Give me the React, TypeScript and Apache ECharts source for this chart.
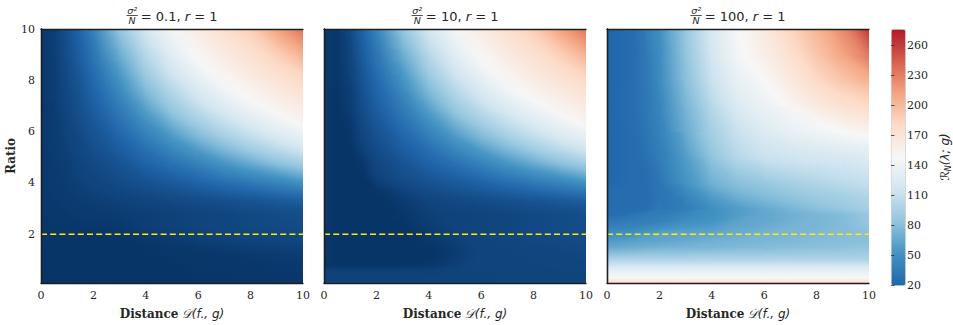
import React, { useEffect, useRef } from 'react';
import * as echarts from 'echarts';

// ---------- data ----------
const xVals = [0, 0.5, 1, 1.5, 2, 3, 4, 5, 6, 7, 8, 9, 10];
const yValsP1 = [0.1, 0.75, 1.25, 1.75, 2.25, 2.75, 3.25, 3.75, 4.25, 4.75, 5.25, 5.75, 6.25, 6.75, 7.25, 7.75, 8.25, 8.75, 9.25, 9.75, 10];
const yValsP2 = [0.1, 0.55, 0.8, 1.25, 1.75, 2.25, 2.75, 3.25, 3.75, 4.25, 4.75, 5.25, 5.75, 6.25, 6.75, 7.25, 7.75, 8.25, 8.75, 9.25, 9.75, 10];
const yValsP3 = [0.1, 0.3, 0.5, 0.75, 1, 1.25, 1.5, 1.75, 2, 2.25, 2.5, 2.75, 3, 3.5, 4, 5, 6, 7, 8, 9, 10];

// panel 1: sigma^2/N = 0.1 (rows bottom -> top, columns follow xVals)
const panel1Rows = [
  [3, 3, 3, 3, 3, 3, 3, 3, 3, 3, 4, 4, 4],
  [3, 3, 3, 3, 3, 3, 3, 3, 4, 4, 4, 5, 5],
  [3, 3, 3, 3, 3, 3, 3, 4, 4, 5, 6, 7, 8],
  [3, 3, 3, 3, 3, 3, 4, 6, 8, 10, 11, 12, 13],
  [4, 4, 4, 4, 4, 5, 8, 10, 12, 13, 14, 15, 16],
  [5, 5, 5, 6, 6, 7, 9, 10, 12, 13, 15, 16, 17],
  [5, 5, 6, 7, 8, 10, 12, 14, 16, 18, 20, 23, 26],
  [5, 6, 7, 9, 11, 14, 17, 21, 25, 30, 35, 42, 49],
  [5, 6, 8, 11, 13, 18, 23, 29, 37, 47, 56, 65, 77],
  [5, 6, 9, 12, 15, 21, 30, 40, 52, 65, 79, 93, 104],
  [5, 7, 10, 14, 18, 26, 38, 53, 68, 86, 101, 114, 127],
  [5, 7, 11, 15, 20, 31, 48, 66, 87, 104, 119, 133, 144],
  [5, 7, 12, 17, 22, 38, 58, 81, 102, 119, 135, 148, 161],
  [5, 7, 13, 19, 26, 45, 69, 96, 115, 133, 148, 162, 170],
  [5, 8, 14, 20, 29, 52, 81, 107, 128, 145, 161, 170, 179],
  [5, 8, 15, 22, 32, 60, 92, 117, 138, 157, 168, 178, 188],
  [5, 8, 16, 24, 36, 67, 102, 128, 149, 165, 176, 186, 196],
  [5, 8, 17, 27, 41, 76, 110, 137, 159, 171, 183, 194, 210],
  [5, 9, 18, 29, 45, 85, 119, 145, 165, 178, 189, 204, 225],
  [5, 9, 19, 31, 50, 93, 127, 153, 170, 184, 196, 218, 239],
  [5, 9, 19, 32, 52, 97, 131, 157, 174, 186, 200, 225, 246],
];

// panel 2: sigma^2/N = 10
const panel2Rows = [
  [11, 11, 11, 11, 11, 11, 11, 11, 11, 12, 12, 12, 12],
  [10, 10, 10, 10, 10, 10, 10, 11, 11, 12, 12, 12, 12],
  [4, 3, 3, 3, 3, 3, 4, 9, 12, 12, 12, 13, 13],
  [5, 3, 3, 3, 3, 3, 3, 6, 12, 12, 13, 13, 14],
  [5, 3, 3, 3, 3, 3, 4, 9, 12, 13, 14, 15, 16],
  [6, 3, 3, 3, 3, 3, 7, 11, 12, 13, 15, 16, 17],
  [6, 3, 3, 3, 3, 4, 9, 11, 12, 13, 15, 16, 17],
  [6, 3, 3, 3, 3, 6, 12, 14, 16, 18, 20, 23, 26],
  [6, 3, 3, 3, 4, 12, 17, 21, 25, 30, 35, 42, 49],
  [6, 3, 3, 3, 11, 18, 23, 29, 37, 47, 56, 65, 77],
  [6, 3, 3, 5, 13, 21, 30, 40, 52, 65, 79, 93, 104],
  [6, 3, 3, 10, 16, 26, 38, 53, 68, 86, 101, 114, 127],
  [6, 3, 4, 13, 19, 31, 48, 66, 87, 104, 119, 133, 144],
  [6, 3, 5, 15, 22, 38, 58, 81, 102, 119, 135, 148, 161],
  [6, 3, 7, 17, 26, 45, 69, 96, 115, 133, 148, 162, 170],
  [6, 3, 8, 19, 29, 52, 81, 107, 128, 145, 161, 170, 179],
  [6, 3, 9, 21, 32, 60, 92, 117, 138, 157, 168, 178, 188],
  [6, 4, 11, 23, 36, 67, 102, 128, 149, 165, 176, 186, 196],
  [6, 4, 12, 26, 41, 76, 110, 137, 159, 171, 183, 194, 210],
  [6, 4, 13, 28, 45, 85, 119, 145, 165, 178, 189, 204, 225],
  [6, 4, 14, 30, 50, 93, 127, 153, 170, 184, 196, 218, 239],
  [6, 4, 15, 31, 52, 97, 131, 157, 174, 186, 200, 225, 246],
];

// panel 3: sigma^2/N = 100 (in colorbar units)
const panel3Rows = [
  [178, 178, 178, 178, 178, 178, 178, 178, 178, 178, 178, 178, 178],
  [147, 147, 147, 147, 147, 147, 147, 147, 147, 147, 147, 147, 147],
  [138, 138, 138, 138, 138, 138, 138, 138, 138, 138, 138, 138, 138],
  [119, 119, 119, 120, 120, 120, 121, 121, 121, 122, 122, 122, 122],
  [100, 100, 100, 100, 100, 100, 100, 100, 100, 100, 100, 99, 99],
  [81, 81, 82, 84, 84, 84, 86, 87, 87, 89, 89, 90, 90],
  [65, 66, 68, 70, 71, 73, 74, 76, 78, 79, 81, 82, 84],
  [57, 58, 60, 62, 63, 66, 70, 73, 74, 76, 78, 79, 81],
  [49, 50, 52, 57, 62, 63, 65, 68, 73, 74, 76, 78, 81],
  [39, 41, 42, 46, 49, 55, 58, 65, 68, 73, 74, 78, 84],
  [33, 34, 36, 38, 39, 49, 52, 62, 65, 71, 74, 78, 87],
  [25, 26, 30, 34, 36, 42, 49, 58, 65, 70, 74, 78, 87],
  [25, 25, 25, 26, 33, 36, 49, 58, 66, 74, 81, 87, 94],
  [25, 25, 25, 25, 30, 42, 58, 71, 78, 84, 90, 94, 100],
  [20, 23, 25, 26, 31, 52, 71, 81, 87, 94, 100, 105, 110],
  [20, 22, 25, 28, 36, 58, 84, 103, 113, 116, 119, 122, 126],
  [20, 22, 26, 31, 39, 68, 94, 113, 126, 135, 142, 148, 154],
  [20, 23, 26, 33, 42, 74, 103, 126, 138, 151, 164, 174, 180],
  [20, 22, 26, 33, 46, 81, 113, 135, 148, 164, 180, 193, 206],
  [20, 22, 26, 33, 47, 84, 119, 145, 158, 174, 193, 212, 234],
  [20, 22, 26, 36, 49, 87, 122, 148, 164, 183, 202, 225, 263],
];

const noiseLabels = ['0.1', '10', '100'];
const xTicks = [0, 2, 4, 6, 8, 10];
const yTicks = [2, 4, 6, 8, 10];
const cbarTicks = [20, 50, 80, 110, 140, 170, 200, 230, 260];
const ratioThreshold = [2, 2];
const thresholdX = [0, 10];
const X_RANGE = [0, 10];
const Y_RANGE = [0.1, 10];
const CBAR_RANGE = [20, 276];
const PANEL12_RANGE = [0, 320];

// ---------- styling ----------
const RDBU_R = ['#053061', '#2166ac', '#4393c3', '#92c5de', '#d1e5f0', '#f7f7f7', '#fddbc7', '#f4a582', '#d6604d', '#b2182b', '#67001f'];
const PANEL_LEFT = [41, 324, 607];
const PANEL_W = 262;
const PANEL_TOP = 29;
const PANEL_H = 256;
const SERIF = "'DejaVu Serif', serif";
const SANS = "'DejaVu Sans', sans-serif";
const FRAME = '#1e1e1e';
const TXT = '#262626';

let measureCtx: CanvasRenderingContext2D | null = null;
function textWidth(t: string, font: string) {
  if (!measureCtx) measureCtx = document.createElement('canvas').getContext('2d');
  measureCtx!.font = font;
  return measureCtx!.measureText(t).width;
}

function titleGraphic(cx: number, label: string) {
  const small = 9.5;
  const fs = 13;
  const fSmall = `italic ${small}px 'DejaVu Sans'`;
  const fMain = `${fs}px 'DejaVu Sans'`;
  const fIt = `italic ${fs}px 'DejaVu Sans'`;
  const wFrac = Math.max(textWidth('σ²', fSmall), textWidth('N', fSmall)) + 1.5;
  const gap = 3;
  const t1 = `= ${label}, `;
  const t2 = 'r';
  const t3 = ' = 1';
  const w1 = textWidth(t1, fMain);
  const w2 = textWidth(t2, fIt);
  const w3 = textWidth(t3, fMain);
  const total = wFrac + gap + w1 + w2 + w3;
  const x0 = cx - total / 2;
  const mid = 16;
  return [
    { type: 'text', x: x0 + wFrac / 2, y: 10, style: { text: 'σ²', fontSize: small, fontStyle: 'italic', fontFamily: SANS, fill: TXT, align: 'center', verticalAlign: 'middle' } },
    { type: 'line', shape: { x1: x0, y1: 15.5, x2: x0 + wFrac, y2: 15.5 }, style: { stroke: TXT, lineWidth: 0.8 } },
    { type: 'text', x: x0 + wFrac / 2, y: 20.5, style: { text: 'N', fontSize: small, fontStyle: 'italic', fontFamily: SANS, fill: TXT, align: 'center', verticalAlign: 'middle' } },
    { type: 'text', x: x0 + wFrac + gap, y: mid, style: { text: t1, fontSize: fs, fontFamily: SANS, fill: TXT, align: 'left', verticalAlign: 'middle' } },
    { type: 'text', x: x0 + wFrac + gap + w1, y: mid, style: { text: t2, fontSize: fs, fontStyle: 'italic', fontFamily: SANS, fill: TXT, align: 'left', verticalAlign: 'middle' } },
    { type: 'text', x: x0 + wFrac + gap + w1 + w2, y: mid, style: { text: t3, fontSize: fs, fontFamily: SANS, fill: TXT, align: 'left', verticalAlign: 'middle' } },
  ];
}

function fieldSeries(p: number, rows: number[][], yVals: number[]) {
  const nx = xVals.length;
  const ny = yVals.length;
  const data: number[][] = [];
  rows.forEach((row, j) => row.forEach((v, i) => data.push([xVals[i], yVals[j], v, i, j])));
  const idx = (i: number, j: number) => j * nx + i;
  return {
    type: 'custom', xAxisIndex: 2 * p, yAxisIndex: 2 * p, clip: true, silent: true, z: 2,
    encode: { x: 0, y: 1 },
    data,
    renderItem: (params: any, api: any) => {
      const i = api.value(3);
      const j = api.value(4);
      if (i >= nx - 1 || j >= ny - 1) return null;
      const corners = [[i, j], [i + 1, j], [i, j + 1], [i + 1, j + 1]];
      const pts = corners.map(([a, b]) => api.coord([xVals[a], yVals[b]]));
      const vals = corners.map(([a, b]) => api.value(2, idx(a, b)));
      const cols = corners.map(([a, b]) => api.visual('color', idx(a, b)));
      const x0 = pts[0][0];
      const x1 = pts[1][0];
      const yb = pts[0][1];
      const yt = pts[2][1];
      const w = x1 - x0;
      const h = yt - yb;
      const gx = ((vals[1] - vals[0]) + (vals[3] - vals[2])) / (2 * w);
      const gy = ((vals[2] - vals[0]) + (vals[3] - vals[1])) / (2 * h);
      const norm = Math.hypot(gx, gy);
      let fill: any = cols[0];
      if (norm > 1e-9) {
        const dx = gx / norm;
        const dy = gy / norm;
        const s = pts.map((pt: number[]) => (pt[0] - x0) * dx + (pt[1] - yb) * dy);
        const smin = Math.min(...s);
        const smax = Math.max(...s);
        if (smax - smin > 1e-6) {
          const stops = s
            .map((sv: number, k: number) => ({ offset: (sv - smin) / (smax - smin), color: cols[k] }))
            .sort((a: any, b: any) => a.offset - b.offset);
          fill = {
            type: 'linear', global: true,
            x: x0 + smin * dx, y: yb + smin * dy, x2: x0 + smax * dx, y2: yb + smax * dy,
            colorStops: stops,
          };
        }
      }
      const pad = 0.45;
      return {
        type: 'rect',
        shape: { x: x0 - pad, y: yt - pad, width: w + 2 * pad, height: yb - yt + 2 * pad },
        style: { fill },
      };
    },
  };
}

function buildOption() {
  const panels = [
    { rows: panel1Rows, yVals: yValsP1 },
    { rows: panel2Rows, yVals: yValsP2 },
    { rows: panel3Rows, yVals: yValsP3 },
  ];

  const grid: any[] = PANEL_LEFT.map((l) => ({ left: l, top: PANEL_TOP, width: PANEL_W, height: PANEL_H }));
  grid.push({ left: 891, top: PANEL_TOP, width: 14, height: PANEL_H });

  const xAxis: any[] = [];
  const yAxis: any[] = [];
  PANEL_LEFT.forEach((_, p) => {
    xAxis.push({
      type: 'value', gridIndex: p, min: X_RANGE[0], max: X_RANGE[1], position: 'bottom', z: 10,
      axisLine: { show: true, lineStyle: { color: FRAME, width: 1.3 } },
      axisTick: { show: false }, splitLine: { show: false },
      axisLabel: { customValues: xTicks, fontFamily: SERIF, fontSize: 11, color: TXT, margin: 7 },
      name: '{b|Distance} {m|𝒟(f., g)}', nameLocation: 'middle', nameGap: 25,
      nameTextStyle: {
        rich: {
          b: { fontFamily: SERIF, fontWeight: 'bold', fontSize: 12, color: TXT },
          m: { fontFamily: SANS, fontStyle: 'italic', fontSize: 12, color: TXT },
        },
      },
    });
    xAxis.push({
      type: 'value', gridIndex: p, min: X_RANGE[0], max: X_RANGE[1], position: 'top', z: 10,
      axisLine: { show: true, lineStyle: { color: FRAME, width: 1.3 } },
      axisTick: { show: false }, splitLine: { show: false }, axisLabel: { show: false },
    });
    yAxis.push({
      type: 'value', gridIndex: p, min: Y_RANGE[0], max: Y_RANGE[1], position: 'left', z: 10,
      axisLine: { show: true, lineStyle: { color: FRAME, width: 1.3 } },
      axisTick: { show: false }, splitLine: { show: false },
      axisLabel: p === 0
        ? { customValues: yTicks, fontFamily: SERIF, fontSize: 11, color: TXT, margin: 6 }
        : { show: false },
      name: p === 0 ? 'Ratio' : '', nameLocation: 'middle', nameGap: 21, nameRotate: 90,
      nameTextStyle: { fontFamily: SERIF, fontWeight: 'bold', fontSize: 12, color: TXT },
    });
    yAxis.push({
      type: 'value', gridIndex: p, min: Y_RANGE[0], max: Y_RANGE[1], position: 'right', z: 10,
      axisLine: { show: true, lineStyle: { color: FRAME, width: 1.3 } },
      axisTick: { show: false }, splitLine: { show: false }, axisLabel: { show: false },
    });
  });
  // colorbar axes
  xAxis.push({ type: 'value', gridIndex: 3, min: 0, max: 1, show: false });
  yAxis.push({
    type: 'value', gridIndex: 3, min: CBAR_RANGE[0], max: CBAR_RANGE[1], position: 'right', z: 10,
    axisLine: { show: false },
    axisTick: { show: true, customValues: cbarTicks, length: 3.5, lineStyle: { color: '#333', width: 0.8 } },
    splitLine: { show: false },
    axisLabel: { customValues: cbarTicks, fontFamily: SERIF, fontSize: 11, color: TXT, margin: 5 },
    name: '{a|ℛ}{s|N}{a|(λ; g)}', nameLocation: 'middle', nameGap: 36, nameRotate: 90,
    nameTextStyle: {
      rich: {
        a: { fontFamily: SANS, fontStyle: 'italic', fontSize: 12, color: TXT },
        s: { fontFamily: SANS, fontStyle: 'italic', fontSize: 8, color: TXT, verticalAlign: 'bottom', padding: [6, 0, 0, 0] },
      },
    },
  });

  const series: any[] = panels.map((pnl, p) => fieldSeries(p, pnl.rows, pnl.yVals));
  PANEL_LEFT.forEach((_, p) => {
    series.push({
      type: 'line', xAxisIndex: 2 * p, yAxisIndex: 2 * p, z: 5, silent: true,
      symbol: 'none', data: thresholdX.map((x, k) => [x, ratioThreshold[k]]),
      lineStyle: { color: '#ffee00', width: 1.6, type: [6, 3.2] },
    });
  });

  const graphic: any[] = [];
  PANEL_LEFT.forEach((l, p) => graphic.push(...titleGraphic(l + PANEL_W / 2, noiseLabels[p])));

  return {
    animation: false,
    backgroundColor: '#ffffff',
    grid,
    xAxis,
    yAxis,
    series,
    graphic,
    visualMap: [
      {
        type: 'continuous', show: false, seriesIndex: [0, 1], dimension: 2,
        min: PANEL12_RANGE[0], max: PANEL12_RANGE[1], inRange: { color: RDBU_R },
      },
      {
        type: 'continuous', show: true, seriesIndex: [2], dimension: 2,
        min: CBAR_RANGE[0], max: CBAR_RANGE[1], inRange: { color: RDBU_R.slice(1, 10) },
        left: 891, top: PANEL_TOP, itemWidth: 14, itemHeight: PANEL_H, padding: 0,
        calculable: false, hoverLink: false, borderColor: '#c8c8c8', borderWidth: 0.8,
        textStyle: { fontSize: 0 },
      },
    ],
  };
}

export default function App() {
  const ref = useRef<HTMLDivElement>(null);
  useEffect(() => {
    document.body.style.margin = '0';
    const chart = echarts.init(ref.current!, null, { renderer: 'svg' });
    chart.setOption(buildOption() as any);
    return () => chart.dispose();
  }, []);
  return <div ref={ref} style={{ width: 953, height: 325 }} />;
}
